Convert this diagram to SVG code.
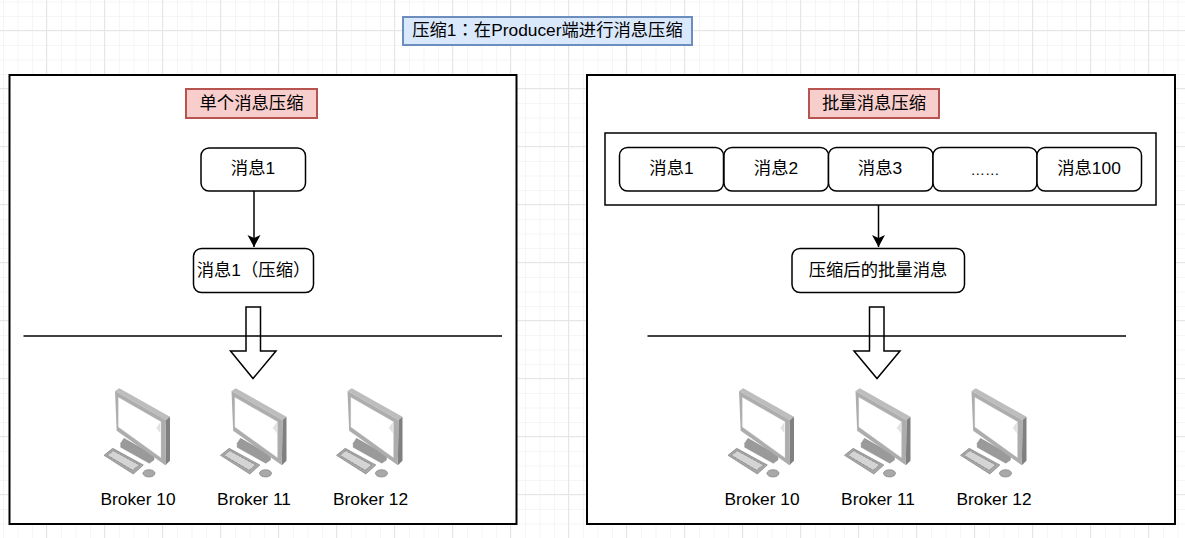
<svg xmlns="http://www.w3.org/2000/svg" width="1185" height="538" viewBox="0 0 1185 538">
<style>
text{font-family:"Liberation Sans","Noto Sans CJK SC",sans-serif;font-size:17.33px;fill:#000;text-anchor:middle}
.box{fill:#fff;stroke:#000;stroke-width:2}
.msg{fill:#fff;stroke:#000;stroke-width:1.5}
.red{fill:#f8cecc;stroke:#b85450;stroke-width:2}
.line{fill:none;stroke:#000;stroke-width:1.5}
.big{fill:none;stroke:#000;stroke-width:1.5}
</style>
<defs>
<pattern id="minor" width="14.5" height="14.5" patternUnits="userSpaceOnUse" x="3" y="1.5"><path d="M0 .5H14.5M.5 0V14.5" fill="none" stroke="#f5f5f5" stroke-width="1"/></pattern>
<pattern id="major" width="58" height="58" patternUnits="userSpaceOnUse" x="46" y="30"><path d="M0 .5H58M.5 0V58" fill="none" stroke="#e6e6e6" stroke-width="1"/></pattern>
<marker id="arr" markerUnits="userSpaceOnUse" markerWidth="14" markerHeight="14" refX="12" refY="6.500" orient="auto"><path d="M0 0L12 6.500L0 13L3 6.500Z" fill="#000"/></marker>
<g id="pc" transform="scale(.3333)">
<path d="M92 190L102 175L192 226V240L178 250L92 202Z" fill="#9a9a9a" stroke="#7a7a7a"/>
<path d="M42 226L68 205L160 255L130 282Z" fill="#a8a8a8" stroke="#7d7d7d" stroke-width="2"/>
<path d="M52 226L70 212L148 255L128 271Z" fill="#d4d4d4" stroke="#808080" stroke-width="3" stroke-dasharray="3 2"/>
<ellipse cx="177" cy="280" rx="18" ry="11" fill="#a8a8a8" stroke="#7d7d7d" stroke-width="2"/>
<path d="M75 33L88 25L240 110L228 120Z" fill="#bdbdbd"/>
<path d="M228 120L240 110V242L226 256Z" fill="#808080"/>
<path d="M75 33L228 120L226 256L80 152Z" fill="#adadad"/>
<path d="M85 52L213 125V233L85 141Z" fill="#fff" stroke="#d8d8d8"/>
<path d="M195 150L211 126V160L200 145Z" fill="#e0e0e0"/>
</g>
</defs>
<rect width="1185" height="538" fill="#fff"/>
<rect width="1185" height="538" fill="url(#minor)"/>
<rect width="1185" height="538" fill="url(#major)"/>
<g id="title"><rect x="403" y="17" width="289" height="28" fill="#dae8fc" stroke="#6c8ebf" stroke-width="2"/><text x="547.500" y="36">压缩1<tspan font-family="'Noto Sans CJK TC',sans-serif">：</tspan>在Producer端进行消息压缩</text></g>
<g id="left-panel"><rect class="box" x="9.500" y="75" width="507" height="449"/></g>
<g id="right-panel"><rect class="box" x="587" y="75" width="588" height="449"/></g>
<g id="left-title"><rect class="red" x="186" y="89" width="131" height="29"/><text x="251.500" y="109">单个消息压缩</text></g>
<g id="right-title"><rect class="red" x="809" y="89" width="130" height="29"/><text x="874" y="109">批量消息压缩</text></g>
<g id="left-msg"><rect class="msg" x="201" y="148" width="104.500" height="43" rx="8"/><text x="253" y="174">消息1</text></g>
<g id="left-compressed"><rect class="msg" x="193.500" y="248.500" width="120" height="44" rx="8"/><text x="253.500" y="276">消息1（压缩）</text></g>
<g id="batch"><rect class="msg" x="605" y="133" width="551" height="72"/></g>
<g id="m1"><rect class="msg" x="619.500" y="147.500" width="104" height="43.500" rx="8"/><text x="671.500" y="174">消息1</text></g>
<g id="m2"><rect class="msg" x="724" y="147.500" width="104.500" height="43.500" rx="8"/><text x="776" y="174">消息2</text></g>
<g id="m3"><rect class="msg" x="828.500" y="147.500" width="104.500" height="43.500" rx="8"/><text x="880" y="174">消息3</text></g>
<g id="m4"><rect class="msg" x="933" y="147.500" width="104" height="43.500" rx="8"/><text x="985" y="175" style="font-size:14.500px">……</text></g>
<g id="m100"><rect class="msg" x="1037" y="147.500" width="104.500" height="43.500" rx="8"/><text x="1089" y="174">消息100</text></g>
<g id="right-compressed"><rect class="msg" x="792" y="248.500" width="172.500" height="44" rx="8"/><text x="878" y="276">压缩后的批量消息</text></g>
<g id="connectors">
<path class="line" d="M254 191V247" marker-end="url(#arr)"/>
<path class="line" d="M878.500 205V247" marker-end="url(#arr)"/>
<path class="line" d="M23.500 336H502"/>
<path class="line" d="M647.500 336H1126"/>
<path class="big" d="M246 307H260.500V351H276L253 378.500L230.500 351H246Z"/>
<path class="big" d="M869.500 307H884V351H900L877 378.500L854 351H869.500Z"/>
</g>
<g id="b1"><use href="#pc" x="90" y="380"/><text x="138" y="505">Broker 10</text></g>
<g id="b2"><use href="#pc" x="206.500" y="380"/><text x="254" y="505">Broker 11</text></g>
<g id="b3"><use href="#pc" x="322.500" y="380"/><text x="370.500" y="505">Broker 12</text></g>
<g id="b4"><use href="#pc" x="714" y="380"/><text x="762" y="505">Broker 10</text></g>
<g id="b5"><use href="#pc" x="830.500" y="380"/><text x="878" y="505">Broker 11</text></g>
<g id="b6"><use href="#pc" x="946.500" y="380"/><text x="994" y="505">Broker 12</text></g>
</svg>
